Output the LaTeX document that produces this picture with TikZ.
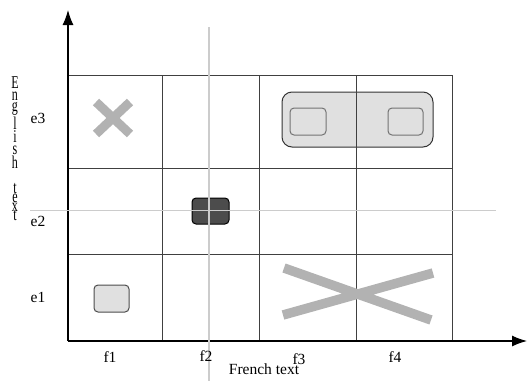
\documentclass[tikz,border=0pt]{standalone}
\usepackage{fontspec}
\setmainfont{Liberation Serif}
\usepackage{tikz}
\usetikzlibrary{arrows.meta}
\tikzset{%
  axis/.style={%
    -{Latex[length=15pt,width=11pt]},
    line width=1.2pt
  },
  cell/.style={%
    draw=black!75,
    line width=1pt
  },
  cross/.style={%
    draw=black!30,
    line width=8pt
  },
  guide/.style={%
    draw=black!20,
    line width=1.3pt
  },
  box/.style={%
    draw=black!70,
    fill=black!12,
    line width=1pt,
    rounded corners=4pt
  }
}

\begin{document}
\begin{tikzpicture}[x=1pt,y=-1pt,font=\fontsize{15.5}{18}\selectfont]
    \useasboundingbox (0,0) rectangle (527,381);

    % aligned phrase over f3 and f4
    \filldraw[box,draw=black!80,rounded corners=10pt] (282,92) rectangle (433,147);
    \filldraw[box,draw=black!55] (290,108) rectangle (326,135);
    \filldraw[box,draw=black!55] (388,108) rectangle (423,135);

    % grid
    \foreach \x in {162,259,356,452}
      \draw[cell] (\x,75) -- (\x,341);
    \foreach \y in {75,168,254}
      \draw[cell] (68,\y) -- (452,\y);

    % axes
    \coordinate (origin) at (68,341);
    \coordinate (xend) at (527,341);
    \coordinate (yend) at (68,10);
    \draw[axis] (origin) -- (xend);
    \draw[axis] (origin) -- (yend);

    % cells
    \draw[cross,line width=9pt] (96,102) -- (130,134) (130,102) -- (96,134);
    \draw[cross,line width=9.5pt] (284,268) -- (431,320) (283,315) -- (433,273);
    \filldraw[box] (94,285) rectangle (129,312);
    \filldraw[box,draw=black,fill=black!70] (192,198) rectangle (229,224);

    % guides
    \draw[guide] (209,27) -- (209,381);
    \draw[guide] (30,210.5) -- (496,210.5);

    % labels
    \node (e3) at (38,118) {e3};
    \node (e2) at (38,221) {e2};
    \node (e1) at (38,297) {e1};
    \node (f1) at (110,357) {f1};
    \node (f2) at (206,356) {f2};
    \node (f3) at (299,359) {f3};
    \node (f4) at (395,357) {f4};
    \node (ftext) at (264,369) {French text};
    \node[anchor=north,inner sep=0pt] (etext) at (15,77)
      {\scalebox{0.8}[1.2]{\parbox{1em}{\centering\fontsize{15}{9.58}\selectfont
        E\\n\\g\\l\\i\\s\\h\\[11.7pt]t\\[-2.1pt]e\\[-2.1pt]x\\[-2.1pt]t}}};
\end{tikzpicture}
\end{document}
